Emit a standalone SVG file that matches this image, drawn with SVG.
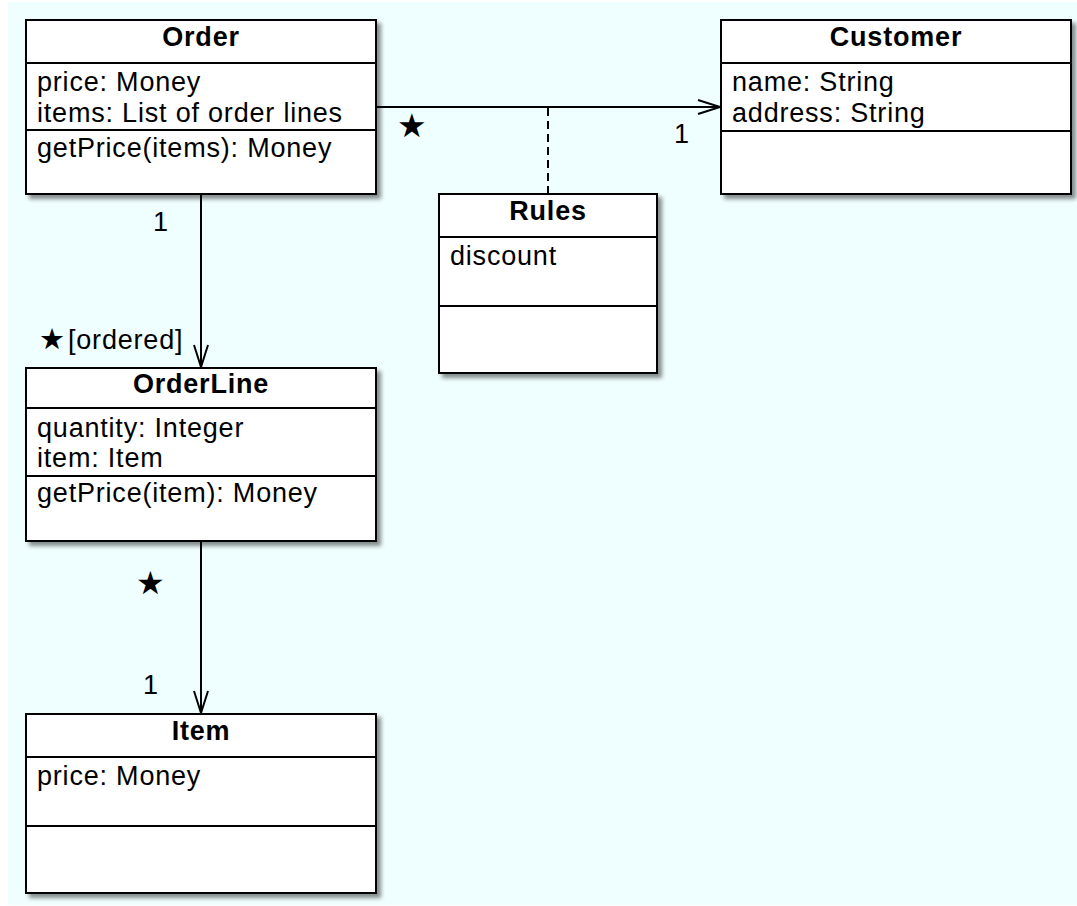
<svg xmlns="http://www.w3.org/2000/svg" width="1077" height="906" viewBox="0 0 1077 906">
<style>
.box{fill:#fff;stroke:#000;stroke-width:2}
.div{stroke:#000;stroke-width:2}
.title{font-family:"Liberation Sans",Arial,sans-serif;font-weight:bold;font-size:27px;letter-spacing:0.8px;text-anchor:middle;fill:#000}
.attr{font-family:"Liberation Sans",Arial,sans-serif;font-size:27px;letter-spacing:0.8px;fill:#000}
.lbl{font-family:"Liberation Sans",Arial,sans-serif;font-size:27px;letter-spacing:0.8px;fill:#000}
.star{font-family:"DejaVu Sans",sans-serif;fill:#000}
.conn{stroke:#000;stroke-width:2;fill:none}
</style>
<defs>
<filter id="sh" x="-10%" y="-10%" width="130%" height="130%">
<feDropShadow dx="4" dy="4" stdDeviation="2" flood-color="#000" flood-opacity="0.45"/>
</filter>
<marker id="arr" viewBox="0 0 24 16" refX="23" refY="8" markerWidth="24" markerHeight="16" markerUnits="userSpaceOnUse" orient="auto">
<path d="M1,1 L23,8 L1,15" fill="none" stroke="#000" stroke-width="2"/>
</marker>
</defs>
<rect x="0" y="0" width="1077" height="906" fill="#fff"/>
<rect x="8" y="2" width="1069" height="903" fill="#effefe"/>

<g id="connectors">
<line class="conn" x1="376" y1="107" x2="720" y2="107" marker-end="url(#arr)"/>
<line class="conn" x1="548" y1="108" x2="548" y2="194" stroke-dasharray="8,5"/>
<line class="conn" x1="201" y1="195" x2="201" y2="367" marker-end="url(#arr)"/>
<line class="conn" x1="201" y1="541" x2="201" y2="713" marker-end="url(#arr)"/>
<text class="star" x="397" y="137" font-size="33">★</text>
<text class="lbl" x="674" y="143">1</text>
<text class="lbl" x="153" y="231">1</text>
<text class="star" x="39" y="349" font-size="29">★</text>
<text class="lbl" x="68" y="349">[ordered]</text>
<text class="star" x="136" y="594" font-size="32">★</text>
<text class="lbl" x="143" y="694">1</text>
</g>

<g id="Order">
<rect class="box" x="26" y="20" width="350" height="174" filter="url(#sh)"/>
<line class="div" x1="26" y1="63" x2="376" y2="63"/>
<line class="div" x1="26" y1="130" x2="376" y2="130"/>
<text class="title" x="201" y="46">Order</text>
<text class="attr" x="37" y="91">price: Money</text>
<text class="attr" x="37" y="122">items: List of order lines</text>
<text class="attr" x="37" y="157">getPrice(items): Money</text>
</g>

<g id="Customer">
<rect class="box" x="721" y="20" width="350" height="174" filter="url(#sh)"/>
<line class="div" x1="721" y1="63" x2="1071" y2="63"/>
<line class="div" x1="721" y1="131" x2="1071" y2="131"/>
<text class="title" x="896" y="46">Customer</text>
<text class="attr" x="732" y="91">name: String</text>
<text class="attr" x="732" y="122">address: String</text>
</g>

<g id="Rules">
<rect class="box" x="439" y="194" width="218" height="179" filter="url(#sh)"/>
<line class="div" x1="439" y1="237" x2="657" y2="237"/>
<line class="div" x1="439" y1="306" x2="657" y2="306"/>
<text class="title" x="548" y="220">Rules</text>
<text class="attr" x="450" y="265">discount</text>
</g>

<g id="OrderLine">
<rect class="box" x="26" y="368" width="350" height="173" filter="url(#sh)"/>
<line class="div" x1="26" y1="408" x2="376" y2="408"/>
<line class="div" x1="26" y1="476" x2="376" y2="476"/>
<text class="title" x="201" y="393">OrderLine</text>
<text class="attr" x="37" y="437">quantity: Integer</text>
<text class="attr" x="37" y="467">item: Item</text>
<text class="attr" x="37" y="502">getPrice(item): Money</text>
</g>

<g id="Item">
<rect class="box" x="26" y="714" width="350" height="179" filter="url(#sh)"/>
<line class="div" x1="26" y1="757" x2="376" y2="757"/>
<line class="div" x1="26" y1="826" x2="376" y2="826"/>
<text class="title" x="201" y="740">Item</text>
<text class="attr" x="37" y="785">price: Money</text>
</g>
</svg>
